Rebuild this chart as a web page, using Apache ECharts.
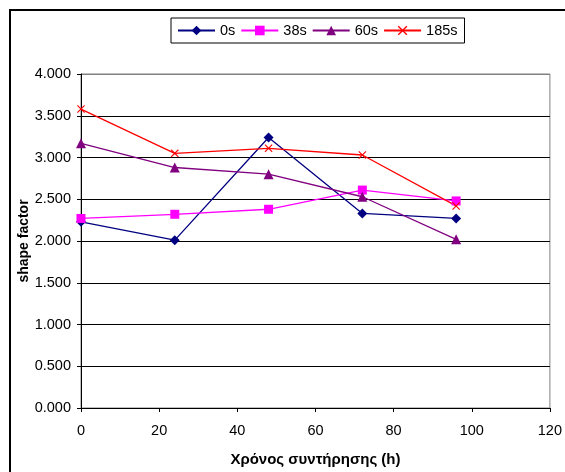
<!DOCTYPE html>
<html>
<head>
<meta charset="utf-8">
<script src="https://cdn.jsdelivr.net/npm/echarts@6/dist/echarts.min.js"></script>
<style>
  html, body { margin: 0; padding: 0; background: #fff; }
  #chart { width: 565px; height: 472px; }
</style>
</head>
<body>
<div id="chart"></div>
<script>
// Storage time (hours) at which the shape factor was measured
const hours = [0, 24, 48, 72, 96];

// Shape factor per treatment duration
const series0s   = [2.23, 2.01, 3.24, 2.33, 2.27];
const series38s  = [2.27, 2.32, 2.38, 2.61, 2.48];
const series60s  = [3.17, 2.88, 2.80, 2.53, 2.02];
const series185s = [3.58, 3.05, 3.11, 3.03, 2.42];

const seriesNames = ['0s', '38s', '60s', '185s'];
const xTicks = [0, 20, 40, 60, 80, 100, 120];
const yTicks = [0, 0.5, 1, 1.5, 2, 2.5, 3, 3.5, 4];

const FONT = '"Liberation Sans", Arial, sans-serif';

// Thin X-shaped marker as a filled polygon
const crossSymbol = 'path://M0,1L1,0L5,4L9,0L10,1L6,5L10,9L9,10L5,6L1,10L0,9L4,5Z';

function pairs(values) {
  return hours.map((h, i) => [h, values[i]]);
}

function lineSeries(name, values, color, symbol, size) {
  return {
    name: name,
    type: 'line',
    data: pairs(values),
    symbol: symbol,
    symbolSize: size,
    showAllSymbol: true,
    lineStyle: { color: color, width: 1.3 },
    itemStyle: { color: color },
    emphasis: { disabled: true },
    animation: false
  };
}

// Gridlines are black; the top one sits on the grey plot frame
const gridColors = yTicks.map((v, i) => (i === yTicks.length - 1 ? '#808080' : '#000'));

const chart = echarts.init(document.getElementById('chart'), null, { renderer: 'canvas' });

chart.setOption({
  backgroundColor: '#ffffff',
  animation: false,
  graphic: [{
    type: 'rect',
    shape: { x: 10, y: 10, width: 600, height: 500 },
    style: { fill: 'none', stroke: '#000', lineWidth: 2 },
    z: -10
  }],
  legend: {
    left: 171,
    top: 18,
    padding: [5, 7, 5, 6],
    itemWidth: 37,
    itemHeight: 12,
    itemGap: 5,
    borderColor: '#000',
    borderWidth: 1,
    backgroundColor: '#fff',
    data: seriesNames,
    textStyle: { fontFamily: FONT, fontSize: 14.5, color: '#000' }
  },
  grid: {
    left: 81,
    right: 9,
    top: 74,
    bottom: 62,
    show: true,
    borderColor: '#808080',
    borderWidth: 1,
    backgroundColor: 'transparent'
  },
  xAxis: {
    type: 'value',
    min: xTicks[0],
    max: xTicks[xTicks.length - 1],
    interval: 20,
    name: 'Χρόνος συντήρησης (h)',
    nameLocation: 'middle',
    nameGap: 44,
    nameMoveOverlap: false,
    nameTextStyle: { fontFamily: FONT, fontSize: 15, fontWeight: 'bold', color: '#000' },
    axisLine: { show: true, lineStyle: { color: '#000', width: 1 } },
    axisTick: { show: true, length: 4, lineStyle: { color: '#000' } },
    axisLabel: { fontFamily: FONT, fontSize: 14.5, color: '#000', margin: 15, showMaxLabel: true },
    splitLine: { show: false }
  },
  yAxis: {
    type: 'value',
    min: yTicks[0],
    max: yTicks[yTicks.length - 1],
    interval: 0.5,
    name: 'shape factor',
    nameLocation: 'middle',
    nameGap: 50,
    nameMoveOverlap: false,
    nameTextStyle: { fontFamily: FONT, fontSize: 14, fontWeight: 'bold', color: '#000' },
    axisLine: { show: true, lineStyle: { color: '#000', width: 1 } },
    axisTick: { show: true, length: 4, lineStyle: { color: '#000' } },
    axisLabel: {
      fontFamily: FONT, fontSize: 14.5, color: '#000', margin: 10,
      formatter: v => v.toFixed(3)
    },
    splitLine: { show: true, lineStyle: { color: gridColors, width: 1 } }
  },
  series: [
    lineSeries('0s', series0s, '#000080', 'diamond', 10),
    lineSeries('38s', series38s, '#FF00FF', 'rect', 9),
    lineSeries('60s', series60s, '#800080', 'triangle', 10),
    lineSeries('185s', series185s, '#FF0000', crossSymbol, 8)
  ]
});
</script>
</body>
</html>
